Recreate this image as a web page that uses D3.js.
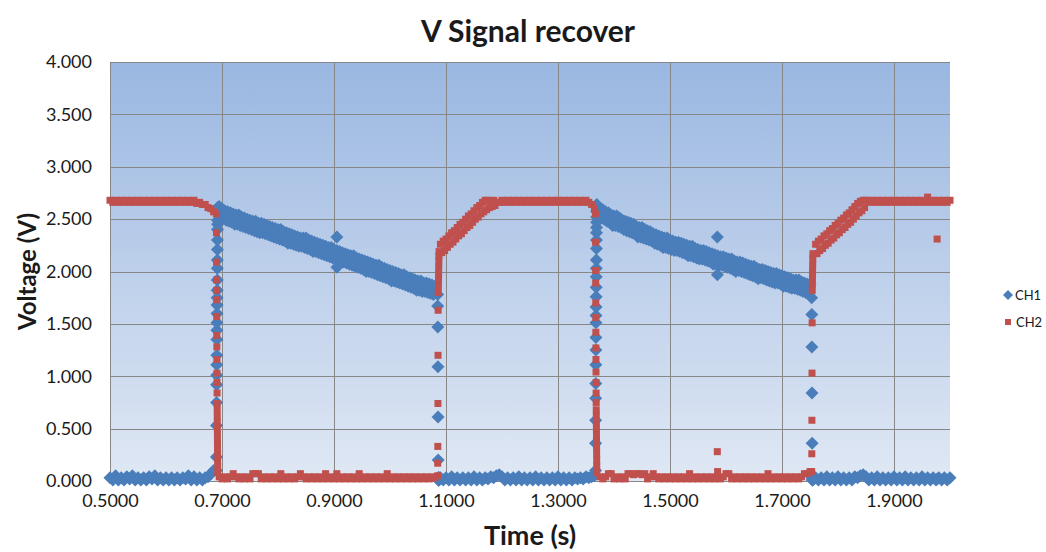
<!DOCTYPE html>
<html>
<head>
<meta charset="utf-8">
<script src="https://cdn.jsdelivr.net/npm/d3@7"></script>
<style>
    body { margin: 0; background: #fff; }
    text { font-family: Lato, "Open Sans", sans-serif; }
</style>
</head>
<body>
<div id="chart"></div>
<script>
// sample times (s) and channel readings (V), one block per stretch of the trace.
// the "b" blocks are the in-between samples that fill the noisy bands (one channel only)

// low / high before the first edge
var time1 = [0.500, 0.505, 0.510, 0.515, 0.520, 0.525, 0.530, 0.535, 0.540, 0.545, 0.550, 0.555, 0.560, 0.565, 0.570, 0.575, 0.580, 0.585, 0.590, 0.595,
    0.600, 0.605, 0.610, 0.615, 0.620, 0.625, 0.630, 0.635, 0.640, 0.645, 0.650, 0.655, 0.660, 0.665, 0.670, 0.675, 0.680, 0.685];
var ch1_1 = [0.03, 0.01, 0.05, 0.01, 0.03, 0.01, 0.04, 0.02, 0.05, 0.01, 0.03, 0.01, 0.03, 0.01, 0.04, 0.02, 0.05, 0.01, 0.03, 0.01,
    0.03, 0.01, 0.03, 0.01, 0.03, 0.01, 0.03, 0.02, 0.05, 0.01, 0.04, 0.01, 0.03, 0.01, 0.03, 0.04, 0.07, 0.10];
var ch2_1 = [2.68, 2.66, 2.68, 2.66, 2.68, 2.66, 2.68, 2.66, 2.68, 2.66, 2.68, 2.66, 2.68, 2.66, 2.68, 2.66, 2.68, 2.66, 2.68, 2.66,
    2.68, 2.66, 2.68, 2.66, 2.68, 2.66, 2.68, 2.66, 2.68, 2.66, 2.68, 2.65, 2.66, 2.64, 2.64, 2.61, 2.60, 2.57];

// first edge
var time2 = [0.6900, 0.6901, 0.6902, 0.6903, 0.6904, 0.6905, 0.6906, 0.6907, 0.6908, 0.6909, 0.6910, 0.6911, 0.6912,
    0.6913, 0.6914, 0.6915, 0.6916, 0.6917, 0.6918, 0.6919, 0.6920, 0.6921, 0.6922, 0.6923, 0.6924];
var ch1_2 = [0.10, 0.23, 0.53, 0.75, 0.92, 1.01, 1.11, 1.20, 1.35, 1.44, 1.51, 1.60, 1.68, 1.75, 1.82, 1.92, 2.03, 2.11, 2.21, 2.30, 2.40, 2.45, 2.49, 2.56, 2.61];
var ch2_2 = [2.55, 2.37, 2.09, 1.92, 1.82, 1.73, 1.57, 1.39, 1.28, 1.16, 1.03, 0.94, 0.84, 0.74, 0.68, 0.62, 0.56, 0.50, 0.44, 0.38, 0.32, 0.26, 0.20, 0.14, 0.08];

// first decay
var time3 = [0.695, 0.700, 0.705, 0.710, 0.715, 0.720, 0.725, 0.730, 0.735, 0.740, 0.745, 0.750, 0.755, 0.760, 0.765, 0.770, 0.775, 0.780, 0.785, 0.790,
    0.795, 0.800, 0.805, 0.810, 0.815, 0.820, 0.825, 0.830, 0.835, 0.840, 0.845, 0.850, 0.855, 0.860, 0.865, 0.870, 0.875, 0.880, 0.885, 0.890,
    0.895, 0.900, 0.905, 0.910, 0.915, 0.920, 0.925, 0.930, 0.935, 0.940, 0.945, 0.950, 0.955, 0.960, 0.965, 0.970, 0.975, 0.980, 0.985, 0.990,
    0.995, 1.000, 1.005, 1.010, 1.015, 1.020, 1.025, 1.030, 1.035, 1.040, 1.045, 1.050, 1.055, 1.060, 1.065, 1.070, 1.075, 1.080];
var ch1_3 = [2.62, 2.60, 2.58, 2.57, 2.56, 2.55, 2.54, 2.54, 2.52, 2.51, 2.50, 2.49, 2.48, 2.48, 2.46, 2.46, 2.45, 2.44, 2.43, 2.42,
    2.41, 2.40, 2.40, 2.38, 2.37, 2.36, 2.35, 2.34, 2.33, 2.32, 2.32, 2.32, 2.30, 2.29, 2.28, 2.27, 2.26, 2.25, 2.24, 2.23,
    2.23, 2.21, 2.20, 2.19, 2.18, 2.17, 2.16, 2.15, 2.15, 2.13, 2.12, 2.11, 2.10, 2.09, 2.08, 2.07, 2.06, 2.06, 2.04, 2.03,
    2.02, 2.01, 2.00, 1.99, 1.98, 1.97, 1.97, 1.95, 1.94, 1.93, 1.92, 1.91, 1.91, 1.89, 1.89, 1.88, 1.87, 1.86];
var ch2_3 = [0.04, 0.02, 0.04, 0.02, 0.04, 0.07, 0.04, 0.02, 0.04, 0.02, 0.04, 0.02, 0.07, 0.07, 0.07, 0.02, 0.04, 0.02, 0.04, 0.02,
    0.04, 0.02, 0.07, 0.02, 0.04, 0.02, 0.04, 0.02, 0.04, 0.07, 0.04, 0.02, 0.04, 0.02, 0.04, 0.02, 0.04, 0.02, 0.07, 0.02,
    0.04, 0.02, 0.07, 0.02, 0.04, 0.02, 0.04, 0.02, 0.04, 0.02, 0.07, 0.02, 0.04, 0.02, 0.04, 0.02, 0.04, 0.02, 0.04, 0.02,
    0.07, 0.02, 0.04, 0.02, 0.04, 0.02, 0.04, 0.02, 0.04, 0.02, 0.04, 0.02, 0.04, 0.02, 0.04, 0.02, 0.04, 0.03];
var time3b = [0.6975, 0.7025, 0.7075, 0.7125, 0.7175, 0.7225, 0.7275, 0.7325, 0.7375, 0.7425, 0.7475, 0.7525, 0.7575, 0.7625, 0.7675, 0.7725,
    0.7775, 0.7825, 0.7875, 0.7925, 0.7975, 0.8025, 0.8075, 0.8125, 0.8175, 0.8225, 0.8275, 0.8325, 0.8375, 0.8425, 0.8475, 0.8525,
    0.8575, 0.8625, 0.8675, 0.8725, 0.8775, 0.8825, 0.8875, 0.8925, 0.8975, 0.9025, 0.9075, 0.9125, 0.9175, 0.9225, 0.9275, 0.9325,
    0.9375, 0.9425, 0.9475, 0.9525, 0.9575, 0.9625, 0.9675, 0.9725, 0.9775, 0.9825, 0.9875, 0.9925, 0.9975, 1.0025, 1.0075, 1.0125,
    1.0175, 1.0225, 1.0275, 1.0325, 1.0375, 1.0425, 1.0475, 1.0525, 1.0575, 1.0625, 1.0675, 1.0725, 1.0775];
var ch1_3b = [2.53, 2.51, 2.49, 2.48, 2.47, 2.45, 2.45, 2.44, 2.43, 2.42, 2.41, 2.40, 2.39, 2.38, 2.37, 2.37, 2.36, 2.35, 2.34, 2.33,
    2.32, 2.31, 2.30, 2.29, 2.27, 2.27, 2.26, 2.25, 2.24, 2.24, 2.23, 2.22, 2.21, 2.19, 2.19, 2.18, 2.17, 2.16, 2.15, 2.14,
    2.13, 2.12, 2.11, 2.09, 2.09, 2.08, 2.07, 2.06, 2.05, 2.04, 2.03, 2.02, 2.00, 2.00, 1.99, 1.98, 1.97, 1.96, 1.95, 1.94,
    1.93, 1.91, 1.91, 1.90, 1.89, 1.88, 1.87, 1.86, 1.85, 1.84, 1.82, 1.82, 1.81, 1.81, 1.80, 1.79, 1.78];

// second edge
var time4 = [1.0850, 1.0852, 1.0854, 1.0856, 1.0858, 1.0860, 1.0862, 1.0864, 1.0866, 1.0868, 1.0870, 1.0872, 1.0874, 1.0876];
var ch1_4 = [1.78, 1.67, 1.47, 1.09, 0.61, 0.20, 0.03, 0.01, 0.03, 0.01, 0.03, 0.01, 0.03, 0.01];
var ch2_4 = [0.05, 0.17, 0.33, 0.74, 1.20, 1.63, 1.80, 1.86, 1.92, 1.98, 2.04, 2.10, 2.15, 2.19];

// recovery and flat stretch
var time5 = [1.090, 1.095, 1.100, 1.105, 1.110, 1.115, 1.120, 1.125, 1.130, 1.135, 1.140, 1.145, 1.150, 1.155, 1.160, 1.165, 1.170, 1.175, 1.180, 1.185,
    1.190, 1.195, 1.200, 1.205, 1.210, 1.215, 1.220, 1.225, 1.230, 1.235, 1.240, 1.245, 1.250, 1.255, 1.260, 1.265, 1.270, 1.275, 1.280, 1.285,
    1.290, 1.295, 1.300, 1.305, 1.310, 1.315, 1.320, 1.325, 1.330, 1.335, 1.340, 1.345, 1.350, 1.355, 1.360, 1.365];
var ch1_5 = [0.03, 0.01, 0.03, 0.01, 0.04, 0.01, 0.03, 0.01, 0.03, 0.01, 0.03, 0.01, 0.04, 0.01, 0.03, 0.01, 0.03, 0.02, 0.04, 0.03,
    0.05, 0.06, 0.04, 0.01, 0.03, 0.01, 0.03, 0.01, 0.04, 0.01, 0.03, 0.01, 0.03, 0.01, 0.04, 0.01, 0.03, 0.01, 0.03, 0.01,
    0.03, 0.01, 0.04, 0.01, 0.03, 0.01, 0.03, 0.01, 0.03, 0.02, 0.03, 0.02, 0.04, 0.03, 0.04, 0.05];
var ch2_5 = [2.26, 2.29, 2.31, 2.34, 2.37, 2.39, 2.42, 2.45, 2.47, 2.50, 2.53, 2.55, 2.58, 2.61, 2.63, 2.66, 2.68, 2.68, 2.66, 2.68,
    2.66, 2.66, 2.68, 2.66, 2.68, 2.66, 2.68, 2.66, 2.68, 2.66, 2.68, 2.66, 2.68, 2.66, 2.68, 2.66, 2.68, 2.66, 2.68, 2.66,
    2.68, 2.66, 2.68, 2.66, 2.68, 2.66, 2.68, 2.66, 2.68, 2.66, 2.68, 2.66, 2.68, 2.66, 2.64, 2.60];
var time5b = [1.0925, 1.0975, 1.1025, 1.1075, 1.1125, 1.1175, 1.1225, 1.1275, 1.1325, 1.1375, 1.1425, 1.1475, 1.1525, 1.1575, 1.1625, 1.1675,
    1.1725, 1.1775, 1.1825, 1.1875];
var ch2_5b = [2.18, 2.20, 2.23, 2.26, 2.28, 2.31, 2.34, 2.36, 2.39, 2.42, 2.44, 2.47, 2.50, 2.52, 2.55, 2.57, 2.59, 2.61, 2.62, 2.63];

// third edge
var time6 = [1.3670, 1.3671, 1.3672, 1.3673, 1.3674, 1.3675, 1.3676, 1.3677, 1.3678, 1.3679, 1.3680, 1.3681,
    1.3682, 1.3683, 1.3684, 1.3685, 1.3686, 1.3687, 1.3688, 1.3689, 1.3690, 1.3691, 1.3692, 1.3693];
var ch1_6 = [0.10, 0.36, 0.58, 0.79, 0.93, 1.11, 1.25, 1.37, 1.51, 1.58, 1.66, 1.76, 1.85, 1.95, 2.03, 2.11, 2.22, 2.30, 2.37, 2.42, 2.47, 2.52, 2.57, 2.64];
var ch2_6 = [2.55, 2.28, 2.01, 1.89, 1.70, 1.56, 1.42, 1.27, 1.16, 1.04, 0.94, 0.84, 0.75, 0.68, 0.62, 0.56, 0.50, 0.44, 0.38, 0.32, 0.26, 0.20, 0.14, 0.08];

// second decay
var time7 = [1.375, 1.380, 1.385, 1.390, 1.395, 1.400, 1.405, 1.410, 1.415, 1.420, 1.425, 1.430, 1.435, 1.440, 1.445, 1.450, 1.455, 1.460, 1.465, 1.470,
    1.475, 1.480, 1.485, 1.490, 1.495, 1.500, 1.505, 1.510, 1.515, 1.520, 1.525, 1.530, 1.535, 1.540, 1.545, 1.550, 1.555, 1.560, 1.565, 1.570,
    1.575, 1.580, 1.585, 1.590, 1.595, 1.600, 1.605, 1.610, 1.615, 1.620, 1.625, 1.630, 1.635, 1.640, 1.645, 1.650, 1.655, 1.660, 1.665, 1.670,
    1.675, 1.680, 1.685, 1.690, 1.695, 1.700, 1.705, 1.710, 1.715, 1.720, 1.725, 1.730, 1.735, 1.740, 1.745, 1.750];
var ch1_7 = [2.60, 2.59, 2.57, 2.56, 2.54, 2.53, 2.53, 2.51, 2.49, 2.48, 2.47, 2.46, 2.45, 2.43, 2.42, 2.42, 2.40, 2.39, 2.38, 2.36,
    2.35, 2.34, 2.33, 2.32, 2.32, 2.30, 2.29, 2.28, 2.28, 2.27, 2.26, 2.25, 2.24, 2.24, 2.22, 2.21, 2.20, 2.20, 2.19, 2.18,
    2.17, 2.16, 2.15, 2.14, 2.14, 2.13, 2.12, 2.12, 2.10, 2.09, 2.09, 2.08, 2.07, 2.06, 2.05, 2.05, 2.03, 2.02, 2.02, 2.01,
    2.00, 1.99, 1.98, 1.98, 1.97, 1.96, 1.95, 1.94, 1.93, 1.92, 1.92, 1.92, 1.90, 1.89, 1.88, 1.88];
var ch2_7 = [0.04, 0.02, 0.04, 0.07, 0.07, 0.02, 0.04, 0.02, 0.04, 0.02, 0.07, 0.07, 0.06, 0.07, 0.07, 0.06, 0.07, 0.02, 0.04, 0.07,
    0.04, 0.02, 0.04, 0.02, 0.04, 0.02, 0.04, 0.02, 0.04, 0.02, 0.04, 0.02, 0.07, 0.02, 0.04, 0.02, 0.04, 0.02, 0.04, 0.02,
    0.04, 0.02, 0.09, 0.02, 0.04, 0.07, 0.07, 0.02, 0.04, 0.02, 0.04, 0.02, 0.04, 0.02, 0.04, 0.02, 0.04, 0.02, 0.04, 0.02,
    0.07, 0.02, 0.04, 0.02, 0.04, 0.02, 0.04, 0.02, 0.04, 0.02, 0.04, 0.02, 0.04, 0.07, 0.07, 0.09];
var time7b = [1.3775, 1.3825, 1.3875, 1.3925, 1.3975, 1.4025, 1.4075, 1.4125, 1.4175, 1.4225, 1.4275, 1.4325, 1.4375, 1.4425, 1.4475, 1.4525,
    1.4575, 1.4625, 1.4675, 1.4725, 1.4775, 1.4825, 1.4875, 1.4925, 1.4975, 1.5025, 1.5075, 1.5125, 1.5175, 1.5225, 1.5275, 1.5325,
    1.5375, 1.5425, 1.5475, 1.5525, 1.5575, 1.5625, 1.5675, 1.5725, 1.5775, 1.5825, 1.5875, 1.5925, 1.5975, 1.6025, 1.6075, 1.6125,
    1.6175, 1.6225, 1.6275, 1.6325, 1.6375, 1.6425, 1.6475, 1.6525, 1.6575, 1.6625, 1.6675, 1.6725, 1.6775, 1.6825, 1.6875, 1.6925,
    1.6975, 1.7025, 1.7075, 1.7125, 1.7175, 1.7225, 1.7275, 1.7325, 1.7375, 1.7425, 1.7475];
var ch1_7b = [2.51, 2.50, 2.48, 2.47, 2.44, 2.44, 2.43, 2.42, 2.40, 2.39, 2.38, 2.37, 2.36, 2.33, 2.33, 2.32, 2.31, 2.30, 2.29, 2.27,
    2.26, 2.25, 2.23, 2.23, 2.22, 2.21, 2.20, 2.20, 2.19, 2.18, 2.17, 2.15, 2.15, 2.14, 2.13, 2.12, 2.12, 2.11, 2.10, 2.09,
    2.07, 2.07, 2.06, 2.06, 2.05, 2.04, 2.03, 2.02, 2.00, 2.01, 2.00, 1.99, 1.98, 1.97, 1.96, 1.95, 1.93, 1.94, 1.93, 1.92,
    1.91, 1.90, 1.89, 1.89, 1.88, 1.86, 1.86, 1.85, 1.84, 1.84, 1.83, 1.82, 1.81, 1.80, 1.80];

// fourth edge
var time8 = [1.7530, 1.7532, 1.7534, 1.7536, 1.7538, 1.7540, 1.7542, 1.7544, 1.7546, 1.7548, 1.7550, 1.7552];
var ch1_8 = [1.75, 1.59, 1.28, 0.84, 0.36, 0.03, 0.01, 0.03, 0.01, 0.03, 0.01, 0.03];
var ch2_8 = [0.09, 0.26, 0.58, 1.03, 1.51, 1.82, 1.88, 1.94, 2.00, 2.06, 2.12, 2.17];

// recovery to the end
var time9 = [1.760, 1.765, 1.770, 1.775, 1.780, 1.785, 1.790, 1.795, 1.800, 1.805, 1.810, 1.815, 1.820, 1.825, 1.830, 1.835, 1.840, 1.845, 1.850, 1.855,
    1.860, 1.865, 1.870, 1.875, 1.880, 1.885, 1.890, 1.895, 1.900, 1.905, 1.910, 1.915, 1.920, 1.925, 1.930, 1.935, 1.940, 1.945, 1.950, 1.955,
    1.960, 1.965, 1.970, 1.975, 1.980, 1.985, 1.990, 1.995, 2.000];
var ch1_9 = [0.03, 0.01, 0.03, 0.01, 0.04, 0.01, 0.03, 0.01, 0.04, 0.01, 0.03, 0.01, 0.03, 0.01, 0.04, 0.03, 0.05, 0.06, 0.04, 0.01,
    0.03, 0.01, 0.04, 0.01, 0.03, 0.01, 0.03, 0.01, 0.04, 0.01, 0.03, 0.01, 0.04, 0.01, 0.03, 0.01, 0.03, 0.01, 0.04, 0.01,
    0.03, 0.01, 0.03, 0.01, 0.03, 0.01, 0.03, 0.01, 0.03];
var ch2_9 = [2.26, 2.29, 2.31, 2.34, 2.36, 2.39, 2.41, 2.44, 2.46, 2.49, 2.51, 2.54, 2.56, 2.59, 2.62, 2.65, 2.67, 2.68, 2.68, 2.66,
    2.68, 2.66, 2.68, 2.66, 2.68, 2.66, 2.68, 2.66, 2.68, 2.66, 2.68, 2.66, 2.68, 2.66, 2.68, 2.66, 2.68, 2.66, 2.68, 2.66,
    2.71, 2.66, 2.68, 2.66, 2.68, 2.66, 2.68, 2.66, 2.68];
var time9b = [1.7625, 1.7675, 1.7725, 1.7775, 1.7825, 1.7875, 1.7925, 1.7975, 1.8025, 1.8075, 1.8125, 1.8175, 1.8225, 1.8275, 1.8325, 1.8375,
    1.8425, 1.8475];
var ch2_9b = [2.17, 2.20, 2.22, 2.25, 2.27, 2.30, 2.32, 2.35, 2.37, 2.40, 2.42, 2.45, 2.47, 2.50, 2.53, 2.56, 2.58, 2.61];

// stray samples
var timeSpike = [0.9051, 0.9052, 1.5845, 1.5846, 1.9770];
var ch1Spike = [2.33, 2.04, 2.33, 1.97, 0.02];
var ch2Spike = [0.03, 0.03, 0.28, 0.03, 2.31];

var xTicks = [0.5, 0.7, 0.9, 1.1, 1.3, 1.5, 1.7, 1.9];
var yTicks = [0, 0.5, 1, 1.5, 2, 2.5, 3, 3.5, 4];
var seriesNames = ["CH1", "CH2"];

function rows(time, ch1, ch2) {
    return time.map(function (t, i) {
        return { t: t, ch1: ch1 ? ch1[i] : null, ch2: ch2 ? ch2[i] : null };
    });
}

var data = [].concat(
    rows(time1, ch1_1, ch2_1), rows(time2, ch1_2, ch2_2), rows(time3, ch1_3, ch2_3), rows(time3b, ch1_3b, null),
    rows(time4, ch1_4, ch2_4), rows(time5, ch1_5, ch2_5), rows(time5b, null, ch2_5b), rows(time6, ch1_6, ch2_6),
    rows(time7, ch1_7, ch2_7), rows(time7b, ch1_7b, null), rows(time8, ch1_8, ch2_8), rows(time9, ch1_9, ch2_9),
    rows(time9b, null, ch2_9b), rows(timeSpike, ch1Spike, ch2Spike));

var margin = { top: 62, right: 96, bottom: 71, left: 110 },
    width = 1046 - margin.left - margin.right,
    height = 552 - margin.top - margin.bottom;

var blue = "#4a7ebb", red = "#c0504d", grid = "#878787";

var x = d3.scaleLinear().domain([0.5, 2.0]).range([0, width]);
var y = d3.scaleLinear().domain([0, 4]).range([height, 0]);

var svgRoot = d3.select("#chart").append("svg")
    .attr("width", 1046)
    .attr("height", 552);

var grad = svgRoot.append("defs").append("linearGradient")
    .attr("id", "plotBg")
    .attr("x1", 0).attr("y1", 0).attr("x2", 0).attr("y2", 1);
grad.append("stop").attr("offset", "0%").attr("stop-color", "#9ab7e1");
grad.append("stop").attr("offset", "100%").attr("stop-color", "#e0e8f4");

var svg = svgRoot.append("g")
    .attr("transform", "translate(" + margin.left + "," + margin.top + ")");

svg.append("rect")
    .attr("width", width)
    .attr("height", height)
    .style("fill", "url(#plotBg)");

var yAxis = d3.axisLeft(y)
    .tickValues(yTicks)
    .tickSize(-width)
    .tickPadding(18)
    .tickFormat(d3.format(".3f"));

var xAxis = d3.axisBottom(x)
    .tickValues(xTicks)
    .tickSize(-height)
    .tickPadding(13)
    .tickFormat(d3.format(".4f"));

svg.append("g")
    .attr("class", "y axis")
    .call(yAxis);

svg.append("g")
    .attr("class", "x axis")
    .attr("transform", "translate(0," + height + ")")
    .call(xAxis);

d3.selectAll(".axis path").remove();
d3.selectAll(".axis line")
    .style("stroke", grid)
    .style("stroke-width", 1)
    .style("shape-rendering", "crispEdges");
d3.selectAll(".axis text")
    .style("font-size", "18px")
    .style("fill", "#1a1a1a");

// CH1 first, CH2 drawn over it
var diamond = "M0,-6.5L6.5,0L0,6.5L-6.5,0Z";

svg.append("g").selectAll("path")
    .data(data.filter(d => d.ch1 != null))
    .enter().append("path")
    .attr("d", diamond)
    .attr("transform", d => "translate(" + x(d.t) + "," + y(d.ch1) + ")")
    .style("fill", blue);

svg.append("g").selectAll("rect")
    .data(data.filter(d => d.ch2 != null))
    .enter().append("rect")
    .attr("x", d => x(d.t) - 3.5)
    .attr("y", d => y(d.ch2) - 3.5)
    .attr("width", 7)
    .attr("height", 7)
    .style("fill", red);

// titles
svgRoot.append("text")
    .attr("x", margin.left + width / 2 - 2)
    .attr("y", 42)
    .style("text-anchor", "middle")
    .style("font-size", "30px")
    .style("font-weight", "bold")
    .style("fill", "#1a1a1a")
    .text("V Signal recover");

svgRoot.append("text")
    .attr("transform", "translate(36," + (margin.top + height / 2) + ") rotate(-90)")
    .style("text-anchor", "middle")
    .style("font-size", "24px")
    .style("font-weight", "bold")
    .style("fill", "#1a1a1a")
    .text("Voltage (V)");

svgRoot.append("text")
    .attr("x", margin.left + width / 2)
    .attr("y", 545)
    .style("text-anchor", "middle")
    .style("font-size", "27px")
    .style("font-weight", "bold")
    .style("fill", "#1a1a1a")
    .text("Time (s)");

// legend
var legend = svgRoot.selectAll(".legend")
    .data(seriesNames)
    .enter().append("g")
    .attr("class", "legend")
    .attr("transform", (d, i) => "translate(1008," + (295 + i * 27) + ")");

legend.append("path")
    .attr("d", d => d == "CH1" ? "M0,-5L5,0L0,5L-5,0Z" : "M-3,-3H3V3H-3Z")
    .style("fill", d => d == "CH1" ? blue : red);

legend.append("text")
    .attr("x", (d, i) => i == 0 ? 7 : 8)
    .attr("dy", "0.35em")
    .style("font-size", "13px")
    .style("fill", "#1a1a1a")
    .text(d => d);
</script>
</body>
</html>
